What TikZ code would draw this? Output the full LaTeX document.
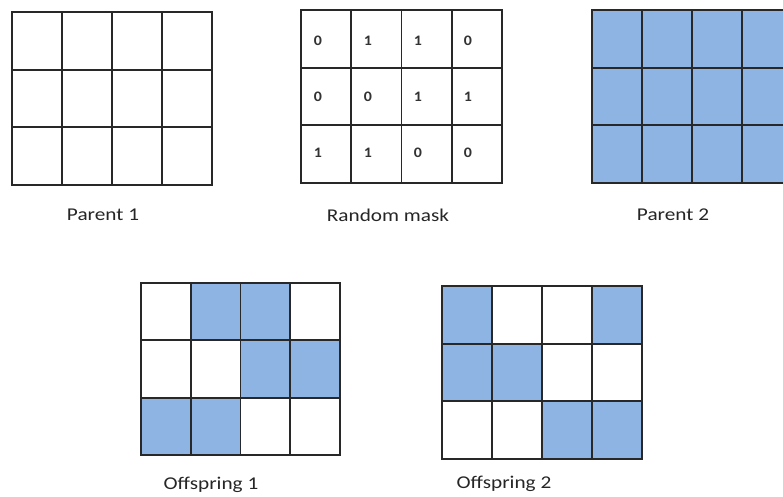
\documentclass[tikz,border=0pt]{standalone}
\usepackage{fontspec}
\setmainfont{Carlito}
\definecolor{cellblue}{RGB}{141,180,226}
\definecolor{gridgray}{RGB}{40,40,40}
\tikzset{
  cellbox/.style={draw=gridgray, line width=1.7pt},
  bluecell/.style={cellbox, fill=cellblue},
  whitecell/.style={cellbox, fill=white},
  caption/.style={font=\fontsize{18}{20}\selectfont, text=black!85, xscale=1.18, inner sep=0pt},
  digit/.style={font=\fontsize{14.5}{16}\selectfont\bfseries, text=black!80, xscale=1.1, inner sep=0pt}
}
% #1 x, #2 y, #3 width, #4 height, #5 list of 12 fill flags
\newcommand{\crossgrid}[5]{%
  \foreach \v [count=\i from 0] in {#5} {
    \pgfmathtruncatemacro\cc{mod(\i,4)}
    \pgfmathtruncatemacro\rr{div(\i,4)}
    \ifnum\v=1
      \path[bluecell] ({#1+\cc*#3/4},{#2+\rr*#4/3}) rectangle ++({#3/4},{#4/3});
    \else
      \path[whitecell] ({#1+\cc*#3/4},{#2+\rr*#4/3}) rectangle ++({#3/4},{#4/3});
    \fi
  }
}
\begin{document}
\begin{tikzpicture}[x=1pt,y=-1pt]
\useasboundingbox (0,0) rectangle (783,496);
\fill[white] (0,0) rectangle (783,496);
\clip (0,0) rectangle (783,496);
% Parent 1
\crossgrid{12}{12}{200}{173}{0,0,0,0,0,0,0,0,0,0,0,0}
% Random mask
\crossgrid{301}{10}{201}{173}{0,0,0,0,0,0,0,0,0,0,0,0}
\foreach \d [count=\i from 0] in {0,1,1,0,0,0,1,1,1,1,0,0} {
  \pgfmathtruncatemacro\cc{mod(\i,4)}
  \pgfmathtruncatemacro\rr{div(\i,4)}
  \node[digit] (m\i) at ({318+\cc*50},{41+\rr*56}) {\d};
}
% Parent 2
\crossgrid{592}{10}{200}{173}{1,1,1,1,1,1,1,1,1,1,1,1}
% Offspring 1
\crossgrid{141}{283}{199}{172}{0,1,1,0,0,0,1,1,1,1,0,0}
% Offspring 2
\crossgrid{442}{286}{200}{173}{1,0,0,1,1,1,0,0,0,0,1,1}
% captions
\node[caption] (p1) at (103,215) {Parent 1};
\node[caption] (rm) at (388,215) {Random mask};
\node[caption] (p2) at (673,215) {Parent 2};
\node[caption] (o1) at (211,485) {Offspring 1};
\node[caption] (o2) at (504,484) {Offspring 2};
\end{tikzpicture}
\end{document}
